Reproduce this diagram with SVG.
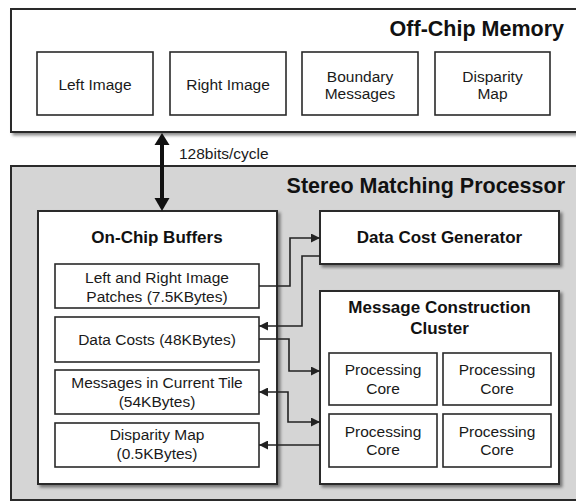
<svg xmlns="http://www.w3.org/2000/svg" width="576" height="501" viewBox="0 0 576 501">
<defs>
<filter id="sh" x="-5%" y="-5%" width="115%" height="115%">
<feDropShadow dx="2.5" dy="2.5" stdDeviation="1.5" flood-color="#000" flood-opacity="0.45"/>
</filter>
<marker id="ah" viewBox="0 0 10 10" refX="10" refY="5" markerWidth="9" markerHeight="9" markerUnits="userSpaceOnUse" orient="auto-start-reverse">
<path d="M0,0 L10,5 L0,10 z" fill="#222"/>
</marker>
<style>
.big{fill:#fff;stroke:#2a2a2a;stroke-width:2}
.gray{fill:#d5d5d5;stroke:#2a2a2a;stroke-width:2}
.box{fill:#fff;stroke:#2a2a2a;stroke-width:1.6}
.t{font-family:"Liberation Sans",Arial,sans-serif;font-size:15.5px;fill:#1a1a1a;text-anchor:middle}
.h{font-family:"Liberation Sans",Arial,sans-serif;font-size:17px;font-weight:bold;fill:#111;text-anchor:middle}
.title{font-family:"Liberation Sans",Arial,sans-serif;font-size:21.5px;font-weight:bold;fill:#111;text-anchor:end}
.c{fill:none;stroke:#222;stroke-width:1.6}
</style>
</defs>

<g id="offchip">
<rect class="big" x="11" y="9" width="568" height="123" filter="url(#sh)"/>
<text class="title" x="564" y="36">Off-Chip Memory</text>
</g>
<g id="left-image">
<rect class="box" x="37" y="52" width="116" height="63"/>
<text class="t" x="95" y="90">Left Image</text>
</g>
<g id="right-image">
<rect class="box" x="170" y="52" width="116" height="63"/>
<text class="t" x="228" y="90">Right Image</text>
</g>
<g id="boundary-messages">
<rect class="box" x="302" y="52" width="116" height="63"/>
<text class="t" x="360" y="82">Boundary</text>
<text class="t" x="360" y="99">Messages</text>
</g>
<g id="disparity-map-off">
<rect class="box" x="435" y="52" width="115" height="63"/>
<text class="t" x="492.5" y="82">Disparity</text>
<text class="t" x="492.5" y="99">Map</text>
</g>

<g id="processor">
<rect class="gray" x="11" y="166" width="568" height="334"/>
<text class="title" x="565" y="193">Stereo Matching Processor</text>
</g>

<g id="onchip-buffers">
<rect class="big" x="38" y="211" width="239" height="273" filter="url(#sh)"/>
<text class="h" x="157" y="243">On-Chip Buffers</text>
</g>
<g id="patches">
<rect class="box" x="55" y="264" width="204" height="44"/>
<text class="t" x="157" y="283">Left and Right Image</text>
<text class="t" x="157" y="302">Patches (7.5KBytes)</text>
</g>
<g id="data-costs">
<rect class="box" x="55" y="317" width="204" height="45"/>
<text class="t" x="157" y="345">Data Costs (48KBytes)</text>
</g>
<g id="messages-tile">
<rect class="box" x="55" y="370" width="204" height="44"/>
<text class="t" x="157" y="388">Messages in Current Tile</text>
<text class="t" x="157" y="407">(54KBytes)</text>
</g>
<g id="disparity-map-on">
<rect class="box" x="55" y="423" width="204" height="44"/>
<text class="t" x="157" y="440">Disparity Map</text>
<text class="t" x="157" y="459">(0.5KBytes)</text>
</g>

<g id="data-cost-generator">
<rect class="big" x="320" y="211" width="239" height="53" filter="url(#sh)"/>
<text class="h" x="439.5" y="243">Data Cost Generator</text>
</g>
<g id="mcc">
<rect class="big" x="320" y="291" width="239" height="193" filter="url(#sh)"/>
<text class="h" x="439.5" y="313">Message Construction</text>
<text class="h" x="439.5" y="334">Cluster</text>
</g>
<g id="core1">
<rect class="box" x="329" y="353" width="108" height="52"/>
<text class="t" x="383" y="375">Processing</text>
<text class="t" x="383" y="394">Core</text>
</g>
<g id="core2">
<rect class="box" x="443" y="353" width="108" height="52"/>
<text class="t" x="497" y="375">Processing</text>
<text class="t" x="497" y="394">Core</text>
</g>
<g id="core3">
<rect class="box" x="329" y="414" width="108" height="53"/>
<text class="t" x="383" y="437">Processing</text>
<text class="t" x="383" y="455">Core</text>
</g>
<g id="core4">
<rect class="box" x="443" y="414" width="108" height="53"/>
<text class="t" x="497" y="437">Processing</text>
<text class="t" x="497" y="455">Core</text>
</g>

<g id="connectors">
<line x1="162" y1="142" x2="162" y2="201" stroke="#111" stroke-width="4"/>
<polygon points="162,133 154.5,145 169.5,145" fill="#111"/>
<polygon points="162,211 154.5,198 169.5,198" fill="#111"/>
<text x="179" y="159" style="font-family:'Liberation Sans',Arial,sans-serif;font-size:15.5px;fill:#1a1a1a">128bits/cycle</text>
<path class="c" d="M259,286 H290 V238 H320" marker-end="url(#ah)"/>
<path class="c" d="M320,256 H302 V326 H259" marker-end="url(#ah)"/>
<path class="c" d="M259,339 H289 V371 H320" marker-end="url(#ah)"/>
<path class="c" d="M259,392 H288 V422 H320" marker-start="url(#ah)" marker-end="url(#ah)"/>
<path class="c" d="M320,445 H259" marker-end="url(#ah)"/>
</g>
</svg>
